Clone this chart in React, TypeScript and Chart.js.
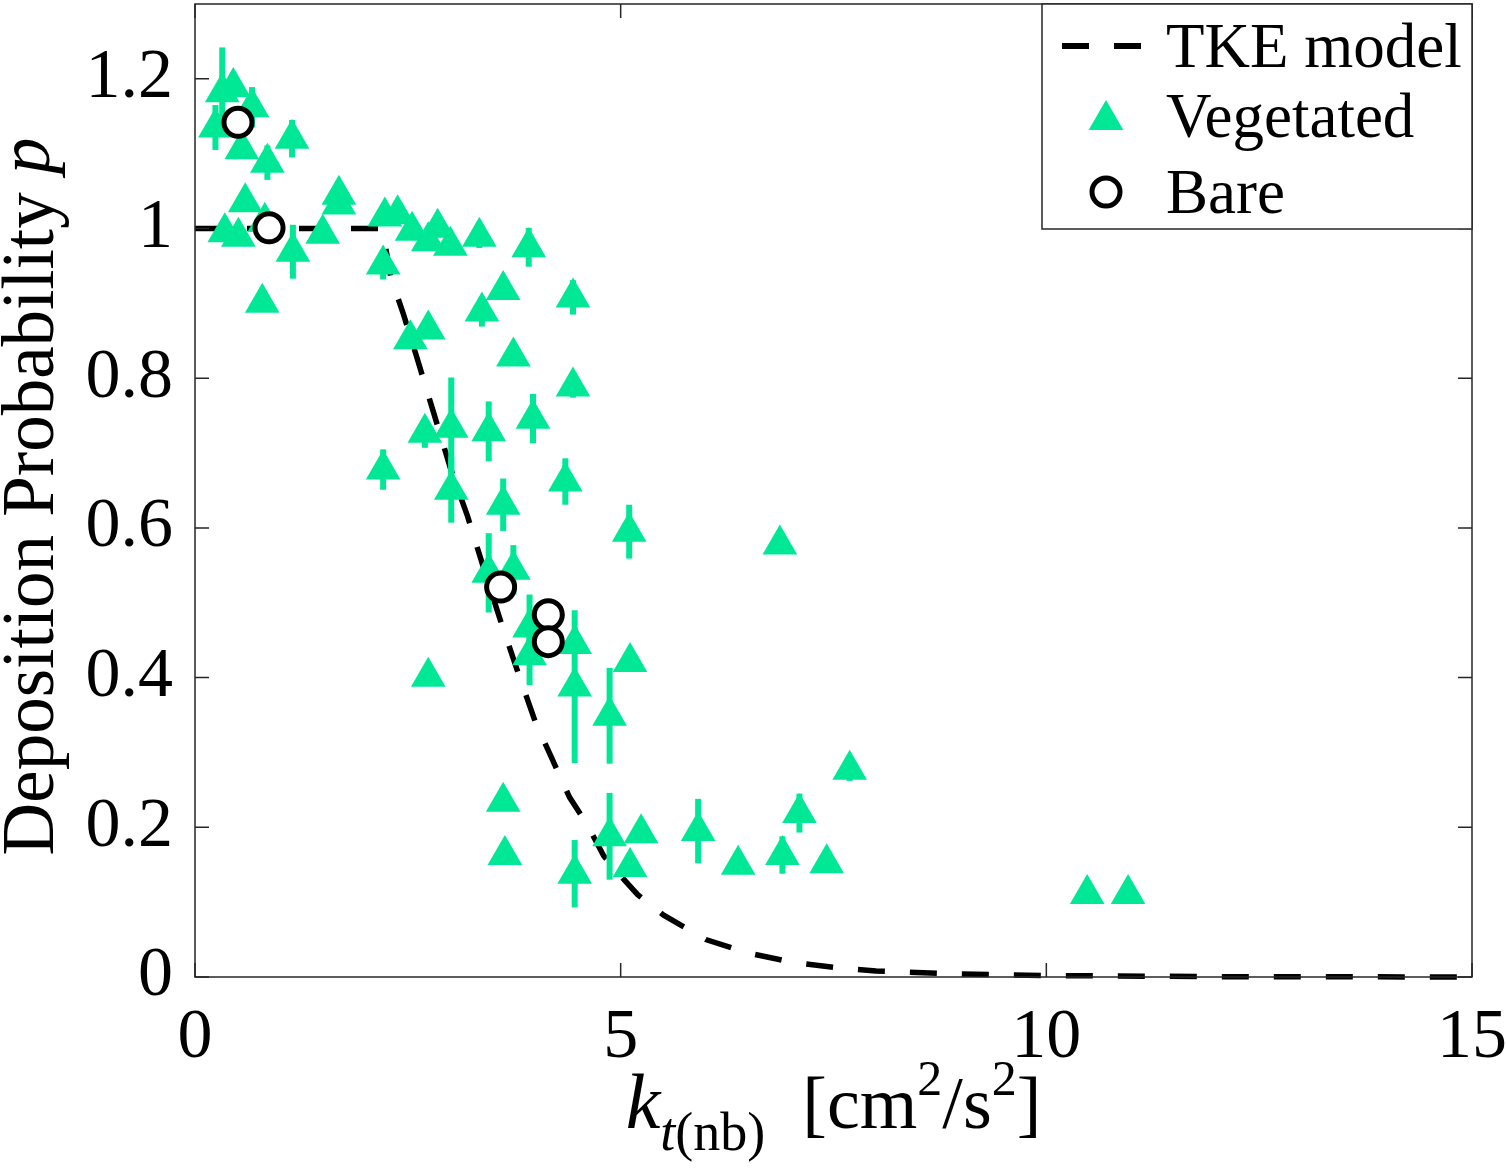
import React, { useEffect, useRef } from "react";
import { Chart, registerables } from "chart.js";

Chart.register(...registerables);

// TKE model curve
const modelK = [0, 2.2, 2.3, 2.45, 2.6, 2.8, 3.0, 3.2, 3.4, 3.6, 3.8, 4.0, 4.2, 4.4, 4.6, 4.8, 5.0, 5.2, 5.5, 6.0, 6.5, 7.0, 7.5, 8.0, 9.0, 10.0, 12.0, 15.0];
const modelP = [1, 1, 0.935, 0.885, 0.83, 0.755, 0.68, 0.616, 0.543, 0.472, 0.405, 0.34, 0.29, 0.24, 0.205, 0.162, 0.135, 0.11, 0.083, 0.05, 0.032, 0.02, 0.013, 0.008, 0.004, 0.002, 0.0005, 0];

// Vegetated runs (value and half-length of the error bar)
const vegK = [0.32, 0.45, 0.67, 0.24, 0.55, 1.14, 0.85, 0.59, 0.35, 0.51, 0.82, 1.15, 0.79, 1.69, 1.69, 1.5, 2.23, 2.38, 2.55, 2.85, 2.74, 3.0, 3.34, 3.92, 2.21, 3.62, 3.37, 4.44, 2.53, 2.74, 3.74, 4.44, 3.01, 3.01, 2.7, 3.45, 3.97, 2.21, 4.35, 3.62, 5.1, 3.45, 3.74, 3.93, 3.93, 4.46, 2.74, 5.11, 4.46, 4.87, 7.69, 3.62, 3.64, 4.46, 4.87, 5.24, 5.11, 5.91, 6.38, 6.9, 7.1, 7.42, 6.87, 10.48, 10.96];
const vegP = [1.182, 1.189, 1.162, 1.135, 1.106, 1.12, 1.088, 1.035, 0.995, 0.989, 1.009, 0.969, 0.901, 1.045, 1.032, 0.993, 1.016, 1.019, 0.997, 1.001, 0.983, 0.977, 0.989, 0.975, 0.952, 0.918, 0.889, 0.908, 0.852, 0.865, 0.829, 0.789, 0.734, 0.651, 0.727, 0.729, 0.746, 0.678, 0.662, 0.631, 0.595, 0.54, 0.544, 0.467, 0.43, 0.445, 0.401, 0.421, 0.388, 0.349, 0.277, 0.234, 0.163, 0.138, 0.188, 0.192, 0.147, 0.195, 0.15, 0.163, 0.219, 0.152, 0.578, 0.111, 0.111];
const vegErr = [0.06, 0.02, 0.027, 0.03, 0, 0.025, 0.023, 0, 0, 0, 0.015, 0.036, 0, 0, 0, 0, 0, 0, 0, 0, 0, 0, 0.015, 0.026, 0.02, 0, 0.02, 0.023, 0, 0, 0, 0.015, 0.067, 0.044, 0.02, 0.04, 0.033, 0.027, 0.031, 0.035, 0.036, 0.053, 0.033, 0.044, 0.04, 0, 0, 0, 0.102, 0.064, 0.015, 0, 0, 0.045, 0.058, 0, 0, 0.043, 0, 0.025, 0.026, 0, 0, 0, 0];

// Bare runs
const bareK = [0.505, 0.87, 3.59, 4.15, 4.15];
const bareP = [1.142, 1.001, 0.521, 0.484, 0.448];

const xTicks = [0, 5, 10, 15];
const yTicks = [0, 0.2, 0.4, 0.6, 0.8, 1, 1.2];

const legendLabels = ["TKE model", "Vegetated", "Bare"];

const GREEN = "#00E896";
const AXIS = "#262626";
const SERIF = "'Liberation Serif', 'Times New Roman', serif";

const errorBars = {
  id: "errorBars",
  beforeDatasetDraw(chart: any, args: any) {
    if (args.index !== 1) return;
    const { ctx, scales } = chart;
    ctx.save();
    ctx.strokeStyle = GREEN;
    ctx.lineWidth = 6;
    vegK.forEach((k, i) => {
      const e = vegErr[i];
      if (!e) return;
      const x = scales.x.getPixelForValue(k);
      ctx.beginPath();
      ctx.moveTo(x, scales.y.getPixelForValue(vegP[i] - e));
      ctx.lineTo(x, scales.y.getPixelForValue(vegP[i] + e));
      ctx.stroke();
    });
    ctx.restore();
  },
};

const frame = {
  id: "frame",
  afterDatasetsDraw(chart: any) {
    const { ctx, chartArea: a, scales } = chart;
    const len = 14;
    ctx.save();
    ctx.strokeStyle = AXIS;
    ctx.lineWidth = 1.5;
    ctx.strokeRect(a.left, a.top, a.right - a.left, a.bottom - a.top);
    ctx.beginPath();
    xTicks.forEach((v) => {
      const x = scales.x.getPixelForValue(v);
      ctx.moveTo(x, a.bottom);
      ctx.lineTo(x, a.bottom - len);
      ctx.moveTo(x, a.top);
      ctx.lineTo(x, a.top + len);
    });
    yTicks.forEach((v) => {
      const y = scales.y.getPixelForValue(v);
      ctx.moveTo(a.left, y);
      ctx.lineTo(a.left + len, y);
      ctx.moveTo(a.right, y);
      ctx.lineTo(a.right - len, y);
    });
    ctx.stroke();
    ctx.restore();
  },
  afterDraw(chart: any) {
    const { ctx, chartArea: a } = chart;
    ctx.save();

    // legend box
    const bw = 430;
    const bh = 225;
    const bx = a.right - bw;
    const by = a.top;
    ctx.fillStyle = "#fff";
    ctx.fillRect(bx, by, bw, bh);
    ctx.strokeStyle = AXIS;
    ctx.lineWidth = 1.5;
    ctx.strokeRect(bx, by, bw, bh);

    const rows = [by + 42, by + 112, by + 188];
    const sx = bx + 64;
    ctx.strokeStyle = "#000";
    ctx.lineWidth = 6;
    ctx.setLineDash([27, 25]);
    ctx.beginPath();
    ctx.moveTo(bx + 20, rows[0]);
    ctx.lineTo(bx + 100, rows[0]);
    ctx.stroke();
    ctx.setLineDash([]);

    const r = 20;
    ctx.fillStyle = GREEN;
    ctx.beginPath();
    for (let j = 0; j < 3; j++) {
      const ang = (j * 2 * Math.PI) / 3;
      const px = sx + Math.sin(ang) * r;
      const py = rows[1] + 4 - Math.cos(ang) * r;
      if (j === 0) ctx.moveTo(px, py);
      else ctx.lineTo(px, py);
    }
    ctx.closePath();
    ctx.fill();

    ctx.fillStyle = "#fff";
    ctx.strokeStyle = "#000";
    ctx.lineWidth = 5;
    ctx.beginPath();
    ctx.arc(sx, rows[2], 14, 0, Math.PI * 2);
    ctx.fill();
    ctx.stroke();

    ctx.fillStyle = "#000";
    ctx.font = `63px ${SERIF}`;
    ctx.textBaseline = "middle";
    ctx.textAlign = "left";
    legendLabels.forEach((t, i) => ctx.fillText(t, bx + 124, rows[i] + 4));

    // y axis title
    const cy = (a.top + a.bottom) / 2 + 6;
    ctx.translate(34, cy);
    ctx.rotate(-Math.PI / 2);
    ctx.textBaseline = "middle";
    const regular = `73px ${SERIF}`;
    const italic = `italic 73px ${SERIF}`;
    ctx.font = regular;
    const w1 = ctx.measureText("Deposition Probability ").width;
    ctx.font = italic;
    const w2 = ctx.measureText("p").width;
    const x0 = -(w1 + w2) / 2;
    ctx.font = regular;
    ctx.fillText("Deposition Probability ", x0, 0);
    ctx.font = italic;
    ctx.fillText("p", x0 + w1, -4);
    ctx.setTransform(1, 0, 0, 1, 0, 0);
    ctx.restore();

    // x axis title: k_t(nb) [cm^2/s^2]
    ctx.save();
    const pieces: [string, string, number][] = [
      ["k", `italic 78px ${SERIF}`, 0],
      ["t", `italic 54px ${SERIF}`, 22],
      ["(nb)", `54px ${SERIF}`, 22],
      ["  [cm", `74px ${SERIF}`, 0],
      ["2", `50px ${SERIF}`, -33],
      ["/s", `74px ${SERIF}`, 0],
      ["2", `50px ${SERIF}`, -33],
      ["]", `74px ${SERIF}`, 0],
    ];
    let total = 0;
    const widths = pieces.map(([t, f]) => {
      ctx.font = f;
      const w = ctx.measureText(t).width;
      total += w;
      return w;
    });
    let px = (a.left + a.right) / 2 - total / 2;
    const base = 1128;
    ctx.fillStyle = "#000";
    ctx.textBaseline = "alphabetic";
    pieces.forEach(([t, f, dy], i) => {
      ctx.font = f;
      ctx.fillText(t, px, base + dy);
      px += widths[i];
    });
    ctx.restore();
  },
};

const App: React.FC = () => {
  const canvasRef = useRef<HTMLCanvasElement | null>(null);
  const chartRef = useRef<Chart | null>(null);

  useEffect(() => {
    if (chartRef.current) chartRef.current.destroy();
    if (!canvasRef.current) return;

    chartRef.current = new Chart(canvasRef.current, {
      type: "scatter",
      data: {
        datasets: [
          {
            label: "Bare",
            data: bareK.map((k, i) => ({ x: k, y: bareP[i] })),
            pointStyle: "circle",
            pointRadius: 14,
            borderWidth: 5,
            borderColor: "#000",
            backgroundColor: "#fff",
            order: 1,
          },
          {
            label: "Vegetated",
            data: vegK.map((k, i) => ({ x: k, y: vegP[i] })),
            pointStyle: "triangle",
            pointRadius: 20,
            borderWidth: 0,
            backgroundColor: GREEN,
            order: 2,
          },
          {
            label: "TKE model",
            data: modelK.map((k, i) => ({ x: k, y: modelP[i] })),
            showLine: true,
            pointRadius: 0,
            borderColor: "#000",
            borderWidth: 5.5,
            borderDash: [27, 25],
            tension: 0,
            clip: false,
            order: 3,
          } as any,
        ],
      },
      options: {
        responsive: false,
        animation: false,
        layout: { autoPadding: false, padding: { left: 0, top: 4, right: 34, bottom: 0 } },
        plugins: {
          legend: { display: false },
          tooltip: { enabled: false },
        },
        scales: {
          x: {
            type: "linear",
            min: 0,
            max: 15,
            grid: { display: false, drawTicks: false },
            border: { display: false },
            ticks: {
              padding: 20,
              color: "#000",
              font: { family: SERIF, size: 70 },
              callback: (v: any) => `${v}`,
            },
            afterBuildTicks: (s: any) => {
              s.ticks = xTicks.map((v) => ({ value: v }));
            },
            afterFit: (s: any) => {
              s.height = 192;
              s.paddingLeft = 0;
              s.paddingRight = 0;
            },
          },
          y: {
            type: "linear",
            min: 0,
            max: 1.3,
            grid: { display: false, drawTicks: false },
            border: { display: false },
            ticks: {
              padding: 22,
              color: "#000",
              font: { family: SERIF, size: 70 },
              callback: (v: any) => `${v}`,
            },
            afterBuildTicks: (s: any) => {
              s.ticks = yTicks.map((v) => ({ value: v }));
            },
            afterFit: (s: any) => {
              s.width = 195;
              s.paddingTop = 0;
              s.paddingBottom = 0;
            },
          },
        },
      },
      plugins: [errorBars, frame],
    });

    return () => {
      if (chartRef.current) {
        chartRef.current.destroy();
        chartRef.current = null;
      }
    };
  }, []);

  return (
    <div style={{ position: "fixed", left: 0, top: 0, width: 1506, height: 1169, background: "#fff" }}>
      <canvas ref={canvasRef} width={1506} height={1169} />
    </div>
  );
};

export default App;
